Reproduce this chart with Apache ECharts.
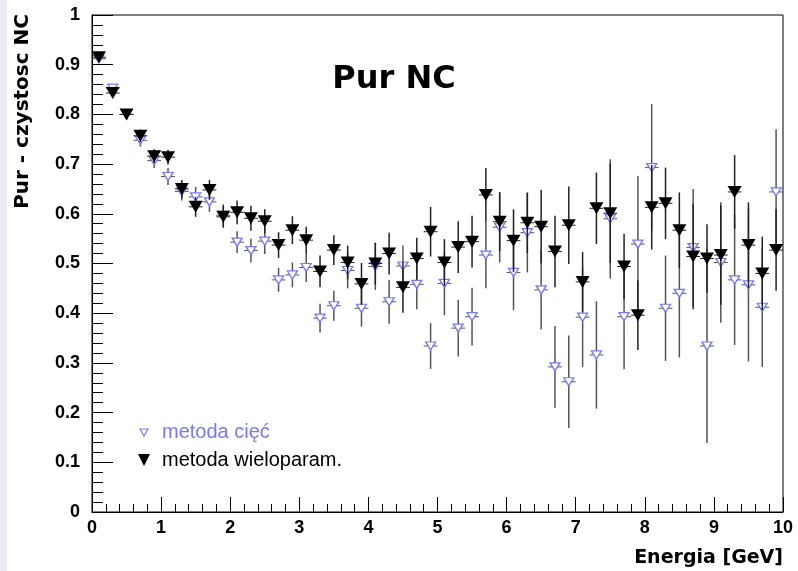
<!DOCTYPE html>
<html>
<head>
<meta charset="utf-8">
<script src="https://cdn.jsdelivr.net/npm/echarts@6/dist/echarts.min.js"></script>
<style>
  html, body { margin: 0; padding: 0; background: #fff; }
  #panel { width: 798px; height: 571px; }
</style>
</head>
<body>
<div id="panel"></div>
<script>
// bin centres [GeV]
const energy = [0.1, 0.3, 0.5, 0.7, 0.9, 1.1, 1.3, 1.5, 1.7, 1.9,
  2.1, 2.3, 2.5, 2.7, 2.9, 3.1, 3.3, 3.5, 3.7, 3.9,
  4.1, 4.3, 4.5, 4.7, 4.9, 5.1, 5.3, 5.5, 5.7, 5.9,
  6.1, 6.3, 6.5, 6.7, 6.9, 7.1, 7.3, 7.5, 7.7, 7.9,
  8.1, 8.3, 8.5, 8.7, 8.9, 9.1, 9.3, 9.5, 9.7, 9.9];

// metoda cięć
const purCuts = [0.912, 0.853, 0.80, 0.748, 0.707, 0.675, 0.645, 0.634, 0.624, 0.597,
  0.543, 0.526, 0.545, 0.467, 0.477, 0.492, 0.39, 0.415, 0.486, 0.41,
  0.494, 0.423, 0.495, 0.458, 0.334, 0.46, 0.37, 0.393, 0.517, 0.573,
  0.482, 0.562, 0.447, 0.292, 0.262, 0.392, 0.316, 0.59, 0.393, 0.539,
  0.693, 0.41, 0.44, 0.532, 0.334, 0.502, 0.467, 0.457, 0.412, 0.644];
const errCuts = [0.006, 0.008, 0.01, 0.013, 0.015, 0.017, 0.018, 0.02, 0.02, 0.022,
  0.022, 0.024, 0.026, 0.024, 0.025, 0.029, 0.029, 0.03, 0.036, 0.037,
  0.047, 0.044, 0.041, 0.05, 0.046, 0.064, 0.057, 0.058, 0.067, 0.071,
  0.076, 0.08, 0.08, 0.082, 0.093, 0.1, 0.108, 0.12, 0.106, 0.137,
  0.128, 0.106, 0.129, 0.118, 0.195, 0.121, 0.131, 0.154, 0.12, 0.126];

// metoda wieloparam.
const purMulti = [0.915, 0.843, 0.80, 0.757, 0.716, 0.714, 0.65, 0.614, 0.648, 0.594,
  0.603, 0.591, 0.585, 0.537, 0.567, 0.547, 0.484, 0.527, 0.502, 0.459,
  0.50, 0.52, 0.452, 0.51, 0.564, 0.502, 0.533, 0.544, 0.638, 0.584,
  0.546, 0.582, 0.574, 0.524, 0.577, 0.463, 0.611, 0.601, 0.494, 0.396,
  0.613, 0.621, 0.567, 0.514, 0.51, 0.517, 0.644, 0.537, 0.48, 0.527];
const errMulti = [0.006, 0.008, 0.01, 0.013, 0.014, 0.015, 0.018, 0.02, 0.02, 0.022,
  0.024, 0.025, 0.024, 0.026, 0.028, 0.027, 0.032, 0.03, 0.034, 0.042,
  0.042, 0.042, 0.051, 0.042, 0.05, 0.047, 0.052, 0.052, 0.054, 0.059,
  0.063, 0.061, 0.074, 0.072, 0.078, 0.06, 0.072, 0.1, 0.066, 0.07,
  0.085, 0.072, 0.076, 0.106, 0.069, 0.1, 0.074, 0.086, 0.074, 0.082];

const BLUE = '#7777ff';
const binHalf = 0.1;

const errRender = (color) => function (params, api) {
  const x = api.value(0), y = api.value(1), e = api.value(2);
  const top = api.coord([x, y + e]);
  const bot = api.coord([x, y - e]);
  const l = api.coord([x - binHalf, y]);
  const r = api.coord([x + binHalf, y]);
  return {
    type: 'group',
    children: [
      { type: 'line', shape: { x1: top[0], y1: top[1], x2: bot[0], y2: bot[1] }, style: { stroke: color, lineWidth: 1.5 } },
      { type: 'line', shape: { x1: l[0], y1: l[1], x2: r[0], y2: r[1] }, style: { stroke: color, lineWidth: 1 } },
    ],
  };
};

const chart = echarts.init(document.getElementById('panel'));

const option = {
  animation: false,
  backgroundColor: '#fff',
  grid: { left: 92, right: 15, top: 15, bottom: 59, show: true, borderColor: '#000', borderWidth: 1 },
  xAxis: {
    type: 'value', min: 0, max: 10, interval: 1,
    axisLine: { lineStyle: { color: '#000', width: 1 } },
    axisTick: { inside: true, length: 15, lineStyle: { color: '#000' } },
    minorTick: { show: true, splitNumber: 5, length: 8, lineStyle: { color: '#000' } },
    splitLine: { show: false },
    axisLabel: { color: '#000', fontFamily: 'Liberation Sans', fontWeight: 'bold', fontSize: 18, margin: 7 },
  },
  yAxis: {
    type: 'value', min: 0, max: 1, interval: 0.1,
    axisLine: { show: true, lineStyle: { color: '#000', width: 1 } },
    axisTick: { show: true, inside: true, length: 21, lineStyle: { color: '#000' } },
    minorTick: { show: true, splitNumber: 5, length: 11, lineStyle: { color: '#000' } },
    splitLine: { show: false },
    axisLabel: {
      color: '#000', fontFamily: 'Liberation Sans', fontWeight: 'bold', fontSize: 18, margin: 12,
      formatter: (v) => String(+v.toFixed(1)),
    },
  },
  graphic: [
    { type: 'rect', left: 0, top: 0, shape: { width: 7, height: 571 }, style: { fill: '#ececf7' } },
    {
      type: 'text', x: 23, y: 14, rotation: Math.PI / 2,
      style: { text: 'Pur - czystosc NC', fill: '#000', font: 'bold 20px "DejaVu Sans"', textAlign: 'right', textVerticalAlign: 'middle' },
    },
    {
      type: 'text', x: 783, y: 558,
      style: { text: 'Energia [GeV]', fill: '#000', font: 'bold 19px "DejaVu Sans"', textAlign: 'right', textVerticalAlign: 'middle' },
    },
    {
      type: 'text', x: 394, y: 80,
      style: { text: 'Pur NC', fill: '#000', font: 'bold 32px "DejaVu Sans"', textAlign: 'center', textVerticalAlign: 'middle' },
    },
    // legend
    { type: 'polygon', shape: { points: [[140, 429], [148, 429], [144, 436]] }, style: { fill: '#fff', stroke: BLUE, lineWidth: 1.2 } },
    {
      type: 'text', x: 162, y: 432,
      style: { text: 'metoda cięć', fill: BLUE, font: '20px "Liberation Sans"', textAlign: 'left', textVerticalAlign: 'middle' },
    },
    { type: 'polygon', shape: { points: [[138, 454], [150, 454], [144, 466]] }, style: { fill: '#000' } },
    {
      type: 'text', x: 162, y: 460,
      style: { text: 'metoda wieloparam.', fill: '#000', font: '20px "Liberation Sans"', textAlign: 'left', textVerticalAlign: 'middle' },
    },
  ],
  series: [
    {
      name: 'metoda cięć err', type: 'custom', renderItem: errRender('#555'),
      data: energy.map((x, i) => [x, purCuts[i], errCuts[i]]), z: 1,
    },
    {
      name: 'metoda cięć', type: 'scatter', symbol: 'triangle', symbolRotate: 180, symbolSize: [10, 8],
      itemStyle: { color: '#fff', borderColor: BLUE, borderWidth: 1.3, opacity: 1 },
      data: energy.map((x, i) => [x, purCuts[i]]), z: 2,
    },
    {
      name: 'metoda wieloparam. err', type: 'custom', renderItem: errRender('#222'),
      data: energy.map((x, i) => [x, purMulti[i], errMulti[i]]), z: 3,
    },
    {
      name: 'metoda wieloparam.', type: 'scatter', symbol: 'triangle', symbolRotate: 180, symbolSize: [14, 12],
      itemStyle: { color: '#000', opacity: 1 },
      data: energy.map((x, i) => [x, purMulti[i]]), z: 4,
    },
  ],
};

chart.setOption(option);
</script>
</body>
</html>
